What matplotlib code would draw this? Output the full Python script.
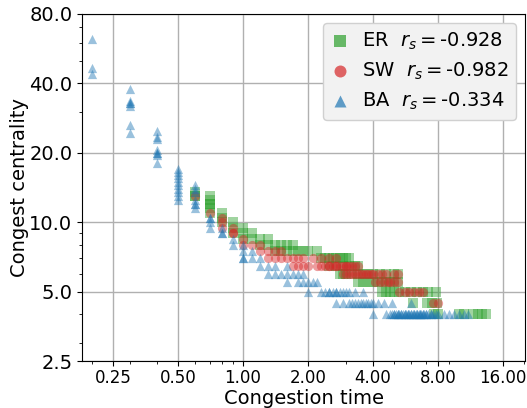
import matplotlib
matplotlib.use('Agg')
import matplotlib.pyplot as plt
from matplotlib.ticker import FixedLocator, FormatStrFormatter, NullFormatter

# congest centrality levels and the congestion times seen at each level
er_levels = [13.5, 13.0, 12.5, 12.0, 11.5, 11.0, 10.5, 10.0, 9.5, 9.0, 8.5, 8.0, 7.5, 7.0, 6.5, 6.0, 5.5, 5.0, 4.5, 4.0]
er_times = [
    [0.6],
    [0.6, 0.6, 0.7],
    [0.7],
    [0.7, 0.7],
    [0.7],
    [0.7, 0.8],
    [0.8],
    [0.8, 0.9],
    [0.9, 1.0],
    [0.9, 1.0, 1.1],
    [1.0, 1.1, 1.2, 1.3],
    [1.2, 1.3, 1.4, 1.5, 1.6, 1.7],
    [1.4, 1.5, 1.6, 1.7, 1.8, 1.9, 2.0, 2.2],
    [2.3, 2.4, 2.5, 2.6, 2.7, 2.8, 2.9, 3.0, 3.1],
    [2.5, 2.7, 2.9, 3.1, 3.3, 3.4],
    [2.8, 2.9, 3.0, 3.2, 3.4, 3.6, 3.8, 4.0, 4.3, 4.6, 5.0, 5.2],
    [3.4, 3.6, 3.8, 4.0, 4.2, 4.4, 4.6, 4.8, 5.0, 5.2],
    [4.4, 4.6, 4.8, 5.0, 5.3, 5.6, 6.0, 6.4, 6.8, 7.2, 7.8],
    [6.1, 7.1, 7.5, 7.9],
    [7.7, 8.0, 10.0, 10.5, 11.6, 12.2, 12.8, 13.3],
]

sw_levels = [13.0, 11.0, 10.5, 10.0, 9.5, 9.0, 8.5, 8.0, 7.5, 7.0, 6.5, 6.0, 5.5, 5.0, 4.5]
sw_times = [
    [0.6],
    [0.7],
    [0.8],
    [0.8],
    [0.8, 0.9],
    [0.9, 0.9],
    [1.0],
    [1.0, 1.1, 1.2],
    [1.2, 1.3, 1.4, 1.5],
    [1.3, 1.4, 1.5, 1.6, 1.7, 1.8, 1.9, 2.1, 2.3, 2.5, 2.7],
    [1.7, 1.8, 1.9, 2.0, 2.2, 2.3, 2.4, 2.5, 2.5, 2.6, 2.7, 2.7, 2.8, 2.9, 3.0, 3.0, 3.1, 3.2, 3.3, 3.4],
    [2.9, 3.0, 3.1, 3.2, 3.3, 3.4, 3.5, 3.6, 3.7, 3.8, 3.9, 4.0, 4.2, 4.4, 4.6, 5.0, 5.2],
    [4.1, 4.3, 4.5, 4.7, 4.8, 5.0, 5.2],
    [5.3, 5.6, 5.9, 6.2, 6.5, 6.8],
    [7.6, 8.0],
]

ba_levels = [62.0, 46.5, 44.0, 38.0, 33.5, 33.0, 32.0, 26.5, 24.5, 25.0, 23.5, 23.0, 20.5, 20.0, 19.5, 18.0,
             17.0, 16.5, 16.0, 15.5, 15.0, 14.5, 14.0, 13.5, 13.0, 12.5, 12.0, 11.5, 10.5, 10.0, 9.5, 9.0,
             8.5, 8.0, 7.5, 7.0, 6.5, 6.0, 5.5, 5.0, 4.5, 4.0]
ba_times = [
    [0.2], [0.2], [0.2],
    [0.3], [0.3], [0.3, 0.3], [0.3], [0.3], [0.3],
    [0.4], [0.4], [0.4], [0.4], [0.4, 0.4], [0.4], [0.4],
    [0.5], [0.5], [0.5], [0.5], [0.5], [0.5, 0.6], [0.5, 0.6], [0.5, 0.6], [0.5], [0.5, 0.6],
    [0.6, 0.6], [0.6],
    [0.7, 0.7], [0.7], [0.7, 0.8], [0.8, 0.8],
    [0.9], [0.9, 1.0], [1.0, 1.1], [1.0, 1.0, 1.1, 1.2],
    [1.2, 1.3, 1.4, 1.6],
    [1.3, 1.4, 1.5, 1.6, 1.7, 1.8, 1.9],
    [1.6, 1.8, 1.9, 2.0, 2.1, 2.2],
    [2.0, 2.3, 2.4, 2.5, 2.5, 2.6, 2.7, 2.7, 2.8, 2.9, 3.0, 3.1, 3.3, 3.6],
    [2.7, 2.9, 3.1, 3.2, 3.3, 3.4, 3.5, 3.6, 3.7, 3.8, 3.9, 4.0, 4.2, 4.5, 4.9, 6.0],
    [4.0, 4.6, 4.8, 4.9, 5.0, 5.1, 5.2, 5.3, 5.4, 5.5, 5.6, 5.7, 5.8, 5.9, 6.0, 6.1, 6.2, 6.3, 6.4,
     6.5, 6.6, 6.7, 6.8, 6.9, 7.0, 7.2, 7.4, 7.6, 7.8, 8.0, 8.5, 9.0, 9.5, 10.0, 10.5, 11.0,
     5.0, 5.2, 5.4, 5.6, 5.8, 6.0, 6.2, 6.4, 6.6, 6.8, 7.0, 7.4],
]

labels = ['ER  $r_s=$-0.928', 'SW  $r_s=$-0.982', 'BA  $r_s=$-0.334']
x_ticks = [0.25, 0.5, 1, 2, 4, 8, 16]
y_ticks = [2.5, 5, 10, 20, 40, 80]


def flatten(levels, times):
    xs, ys = [], []
    for level, ts in zip(levels, times):
        for t in ts:
            xs.append(t)
            ys.append(level)
    return xs, ys


fig = plt.figure(figsize=(5.27, 4.08), dpi=100)
ax = fig.add_axes([0.156, 0.114, 0.84, 0.852])

series = [(er_levels, er_times, 's', 'tab:green'),
          (sw_levels, sw_times, 'o', 'tab:red'),
          (ba_levels, ba_times, '^', 'tab:blue')]
for (levels, times, marker, color), label in zip(series, labels):
    xs, ys = flatten(levels, times)
    ax.scatter(xs, ys, s=44, marker=marker, color=color, alpha=0.45, linewidths=0, label=label)

ax.set_xscale('log')
ax.set_yscale('log')
ax.set_xlim(0.18, 20.2)
ax.set_ylim(2.5, 80)
ax.xaxis.set_major_locator(FixedLocator(x_ticks))
ax.yaxis.set_major_locator(FixedLocator(y_ticks))
ax.xaxis.set_major_formatter(FormatStrFormatter('%.2f'))
ax.yaxis.set_major_formatter(FormatStrFormatter('%.1f'))
ax.xaxis.set_minor_formatter(NullFormatter())
ax.yaxis.set_minor_formatter(NullFormatter())
ax.tick_params(axis='x', labelsize=12, pad=2)
ax.tick_params(axis='y', labelsize=14)
ax.grid(True, which='major', color='#b0b0b0', linewidth=1)
ax.set_axisbelow(True)

ax.set_xlabel('Congestion time', fontsize=14, labelpad=1)
ax.set_ylabel('Congest centrality', fontsize=14, labelpad=0)

leg = ax.legend(loc='upper right', fontsize=14, facecolor='#f2f2f2', edgecolor='#d0d0d0',
                framealpha=1, handlelength=1.0, handletextpad=0.6, borderaxespad=0.45,
                markerscale=1.3, labelspacing=0.45)
for h in leg.legend_handles:
    h.set_alpha(0.7)

fig.savefig('out.png', dpi=100)
